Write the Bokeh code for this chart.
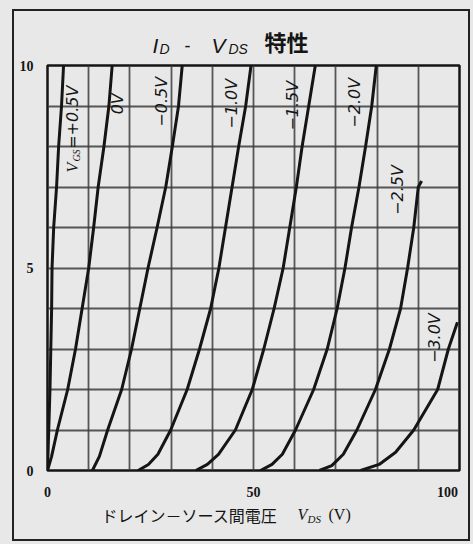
import math
from bokeh.plotting import figure
from bokeh.layouts import column
from bokeh.models import Range1d, FixedTicker, SingleIntervalTicker, Label
from bokeh.core.properties import value
from bokeh.embed import file_html
from bokeh.resources import INLINE

# ---- data ----
vds_p05 = [0, 0.15, 0.3, 0.6, 0.8, 1.0, 1.1, 1.5, 2.2, 2.7, 3.4, 3.9]
id_p05 = [0, 0.5, 1, 2, 3, 4, 5, 6, 7, 8, 9, 10]

vds_0 = [0, 1.0, 2.4, 4.9, 6.8, 8.4, 10.0, 11.2, 12.3, 13.7, 14.9, 15.7]
id_0 = [0, 0.35, 1, 2, 3, 4, 5, 6, 7, 8, 9, 10]

vds_m05 = [10.9, 12.6, 14.6, 18.0, 20.4, 22.4, 24.4, 26.6, 28.7, 30.3, 31.8, 32.7]
id_m05 = [0, 0.35, 1, 2, 3, 4, 5, 6, 7, 8, 9, 10]

vds_m10 = [22.0, 24.5, 26.8, 29.9, 33.9, 36.9, 39.6, 41.6, 43.2, 44.8, 46.4, 48.1, 49.4]
id_m10 = [0, 0.15, 0.4, 1, 2, 3, 4, 5, 6, 7, 8, 9, 10]

vds_m15 = [36.0, 38.8, 41.5, 45.6, 49.7, 52.5, 55.0, 57.2, 58.8, 60.4, 61.8, 63.4, 65.0]
id_m15 = [0, 0.15, 0.4, 1, 2, 3, 4, 5, 6, 7, 8, 9, 10]

vds_m20 = [51.7, 54.5, 57.0, 60.2, 64.6, 67.9, 70.3, 72.2, 73.8, 75.6, 77.2, 78.7, 79.8]
id_m20 = [0, 0.15, 0.4, 1, 2, 3, 4, 5, 6, 7, 8, 9, 10]

vds_m25 = [66.0, 69.0, 71.8, 75.1, 79.6, 83.0, 85.7, 87.4, 88.9, 90.0, 90.8]
id_m25 = [0, 0.12, 0.4, 1, 2, 3, 4, 5, 6, 7, 7.15]

vds_m30 = [76.0, 80.5, 84.5, 88.9, 94.7, 97.3, 99.5]
id_m30 = [0, 0.15, 0.45, 1, 2, 3, 3.66]

x_ticks = [0, 50, 100]
y_ticks = [0, 5, 10]
x_tick_labels = {0: "0", 50: "50", 100: "100\u00a0\u00a0\u00a0"}

curves = [
    (vds_p05, id_p05), (vds_0, id_0), (vds_m05, id_m05), (vds_m10, id_m10),
    (vds_m15, id_m15), (vds_m20, id_m20), (vds_m25, id_m25), (vds_m30, id_m30),
]

BG = "#e8e8e8"
INK = "#151515"

# ---- page geometry (pixels) ----
CL, CT = 14, 11          # content box of the bordered panel (inside 2px border)
CW, CH = 454, 528
FL, FR, FT, FB = 47, 459, 65, 478   # plot frame edges on the page
HEAD_BOTTOM = 57
MAIN_BOTTOM = 502
H1 = HEAD_BOTTOM - CT
H2 = MAIN_BOTTOM - HEAD_BOTTOM
H3 = CH - H1 - H2
BL, BR = FL - CL, CL + CW - FR      # left/right borders shared by all figures


def X(px):
    return (px - FL) / ((FR - FL) / 100)


def blank(height, y_top, y_bot):
    f = figure(width=CW, height=height, output_backend="svg", toolbar_location=None,
               title=None,
               x_range=Range1d(0, 100), y_range=Range1d(y_bot, y_top),
               x_axis_type=None, y_axis_type=None,
               min_border_left=BL, min_border_right=BR,
               min_border_top=0, min_border_bottom=0)
    f.background_fill_color = BG
    f.border_fill_color = BG
    f.outline_line_color = None
    f.grid.visible = False
    return f


def txt(f, s, px, py, size, font, style="italic", align="left", baseline="middle"):
    f.text(x=[X(px)], y=[py], text=[s], text_font=value(font), text_font_size=size,
           text_font_style=style, text_color=INK, text_align=align,
           text_baseline=baseline)


# ---- header: title ----
head = blank(H1, CT, HEAD_BOTTOM)
txt(head, "I", 152, 45, "21px", "Liberation Sans")
txt(head, "D", 159, 48, "14px", "Liberation Sans")
txt(head, "-", 184, 45, "18px", "Liberation Sans", style="normal")
txt(head, "V", 211, 45, "21px", "Liberation Sans")
txt(head, "DS", 228, 48, "14px", "Liberation Sans")
txt(head, "特性", 264, 56, "22px", "Noto Sans CJK JP", style="bold", baseline="bottom")

# ---- main chart ----
p = figure(width=CW, height=H2, output_backend="svg", toolbar_location=None,
           title=None,
           x_range=Range1d(0, 100), y_range=Range1d(0, 10),
           min_border_left=BL, min_border_right=BR,
           min_border_top=FT - HEAD_BOTTOM, min_border_bottom=MAIN_BOTTOM - FB)
p.background_fill_color = BG
p.border_fill_color = BG
p.outline_line_color = INK
p.outline_line_width = 2.5

p.xgrid.ticker = SingleIntervalTicker(interval=10)
p.ygrid.ticker = SingleIntervalTicker(interval=1)
for g in (p.xgrid, p.ygrid):
    g.grid_line_color = "#3c3c3c"
    g.grid_line_width = 1.8
    g.grid_line_alpha = 0.85

p.xaxis.ticker = FixedTicker(ticks=x_ticks)
p.yaxis.ticker = FixedTicker(ticks=y_ticks)
p.xaxis.major_label_overrides = x_tick_labels
for ax in (p.xaxis, p.yaxis):
    ax.axis_line_color = None
    ax.major_tick_line_color = None
    ax.minor_tick_line_color = None
    ax.major_label_text_font = "Liberation Serif"
    ax.major_label_text_font_style = "bold"
    ax.major_label_text_font_size = "14px"
    ax.major_label_text_color = INK
    ax.major_label_standoff = 8

for xs, ys in curves:
    p.line(xs, ys, line_color=INK, line_width=3)


def Y(py):
    return (FB - py) / ((FB - FT) / 10)


def lab(text, px, py, size, font="DejaVu Sans", style="italic", align="left", angle=0.0):
    p.add_layout(Label(x=X(px), y=Y(py), text=text, text_font=font,
                       text_font_style=style, text_font_size=size,
                       text_color=INK, text_align=align, text_baseline="middle",
                       angle=angle))


R = math.pi / 2
lab("V", 72, 174, "16px", font="Liberation Serif", angle=R)
lab("GS", 76, 163, "10px", font="Liberation Serif", angle=R)
lab("=+0.5V", 72, 150, "16px", angle=R)
lab("0V", 117, 104, "16px", align="center", angle=R)
lab("−0.5V", 161, 102, "16px", align="center", angle=R)
lab("−1.0V", 231, 104, "16px", align="center", angle=R)
lab("−1.5V", 292, 106, "16px", align="center", angle=R)
lab("−2.0V", 354, 103, "16px", align="center", angle=R)
lab("−2.5V", 397, 192, "16px", align="center", angle=R)
lab("−3.0V", 434, 343, "16px", align="center", angle=R)

# ---- footer: x axis title ----
foot = blank(H3, MAIN_BOTTOM, CT + CH)
txt(foot, "ドレイン－ソース間電圧", 101, 514, "16px", "Noto Sans CJK JP", style="normal")
txt(foot, "V", 297, 514, "16px", "Liberation Serif")
txt(foot, "DS", 307, 518, "11px", "Liberation Serif")
txt(foot, "(V)", 328, 514, "16px", "Liberation Serif", style="normal")

inner = column(head, p, foot, spacing=0,
               styles={"border": "2px solid #222222", "background-color": BG})
page = column(inner, spacing=0,
              styles={"padding": "9px 3px 3px 12px", "background-color": BG})

open("out.html", "w").write(file_html(page, INLINE))
